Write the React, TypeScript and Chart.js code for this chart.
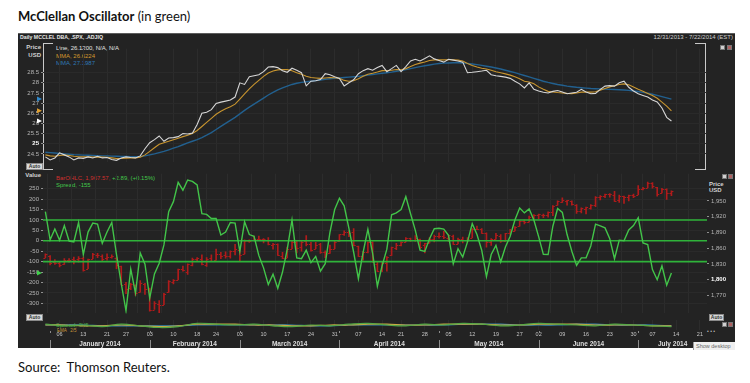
import React, { useEffect, useRef } from 'react';
import { Chart, registerables } from 'chart.js';

Chart.register(...registerables);

const SMALL_FONT = '"Liberation Sans", Arial, sans-serif';
Chart.defaults.font.family = SMALL_FONT;

// ---- x axis: trading days, index 0 = 12/31/2013 ... index 139 = 7/22/2014
const N_DAYS = 140;
const TICK_IDX = [3, 8, 13, 17, 22, 27, 32, 36, 41, 46, 51, 56, 61, 66, 71, 75, 80, 85, 90, 95, 100, 104, 109, 114, 119, 124, 128, 133, 138];
const TICK_LABELS = ['06', '13', '21', '27', '03', '10', '18', '24', '03', '10', '17', '24', '31', '07', '14', '21', '28', '05', '12', '19', '27', '02', '09', '16', '23', '30', '07', '14', '21'];
const MONTHS = ['January 2014', 'February 2014', 'March 2014', 'April 2014', 'May 2014', 'June 2014', 'July 2014'];
const MONTH_START = [1, 22, 41, 62, 83, 104, 125];

// ---- axis tick values
const TOP_TICKS = [24.5, 25, 25.5, 26, 26.5, 27, 27.5, 28, 28.5];
const OSC_TICKS = [250, 200, 150, 100, 50, 0, -50, -100, -150, -200, -250, -300];
const PX_TICKS = [1950, 1920, 1890, 1860, 1830, 1800, 1770];
const LEVELS = [100, 0, -100];

// ---- upper pane: price line + two moving averages
const PRICE = [
  24.35, 24.2, 24.3, 24.55, 24.45, 24.35, 24.2, 24.3, 24.28, 24.35,
  24.3, 24.38, 24.3, 24.32, 24.22, 24.18, 24.3, 24.35, 24.32, 24.3,
  24.4, 24.75, 25.05, 25.2, 25.38, 25.12, 25.28, 25.3, 25.35, 25.5,
  25.48, 25.52, 25.95, 26.5, 26.55, 26.68, 26.98, 27.05, 27.1, 27.15,
  27.3, 28.0, 27.92, 28.3, 28.35, 28.4, 28.55, 28.78, 28.8, 28.75,
  28.6, 28.52, 28.72, 28.62, 28.5, 27.85, 28.08, 28.1, 28.16, 28.45,
  28.4, 28.3, 28.22, 27.85, 28.0, 28.15, 28.45, 28.6, 28.7, 28.62,
  28.75, 28.86, 28.55, 28.7, 28.86, 28.55, 28.8, 29.08, 29.16, 29.08,
  29.2, 29.33, 29.18, 29.1, 29.02, 29.16, 29.12, 29.08, 29.02, 28.5,
  28.52, 28.55, 28.58, 28.62, 28.4, 28.35, 28.32, 28.28, 28.22, 28.08,
  27.95, 27.75, 28.0, 27.68, 27.6, 27.54, 27.5, 27.58, 27.62, 27.55,
  27.46, 27.5, 27.54, 27.68, 27.55, 27.46, 27.48, 27.68, 27.84, 27.86,
  27.84, 28.0, 28.08, 27.78, 27.6, 27.46, 27.38, 27.3, 27.15, 27.06,
  26.76, 26.3, 26.12,
];
const MMA_FAST = [
  24.45, 24.4, 24.38, 24.42, 24.45, 24.42, 24.38, 24.36, 24.35, 24.35,
  24.34, 24.35, 24.34, 24.33, 24.3, 24.27, 24.27, 24.29, 24.3, 24.3,
  24.33, 24.45, 24.62, 24.8, 24.97, 25.05, 25.12, 25.2, 25.27, 25.35,
  25.42, 25.5, 25.65, 25.85, 26.05, 26.25, 26.45, 26.6, 26.72, 26.82,
  26.95, 27.2, 27.45, 27.7, 27.92, 28.12, 28.32, 28.48, 28.58, 28.64,
  28.66, 28.65, 28.6, 28.5, 28.42, 28.32, 28.26, 28.24, 28.22, 28.24,
  28.26, 28.25, 28.22, 28.12, 28.08, 28.1, 28.2, 28.32, 28.42, 28.47,
  28.53, 28.6, 28.6, 28.62, 28.66, 28.64, 28.7, 28.8, 28.9, 28.97,
  29.03, 29.1, 29.13, 29.14, 29.13, 29.14, 29.14, 29.12, 29.08, 28.95,
  28.85, 28.78, 28.72, 28.68, 28.62, 28.55, 28.5, 28.44, 28.38, 28.3,
  28.2, 28.08, 28.04, 27.95, 27.8, 27.68, 27.58, 27.55, 27.52, 27.5,
  27.48, 27.47, 27.5, 27.54, 27.55, 27.54, 27.56, 27.64, 27.72, 27.8,
  27.86, 27.92, 27.95, 27.9, 27.8, 27.68, 27.58, 27.48, 27.38, 27.24,
  27.05, 26.85, 26.62,
];
const MMA_SLOW = [
  24.58, 24.56, 24.54, 24.52, 24.5, 24.48, 24.46, 24.45, 24.44, 24.43,
  24.42, 24.41, 24.4, 24.4, 24.39, 24.38, 24.37, 24.37, 24.36, 24.36,
  24.37, 24.4, 24.45, 24.5, 24.56, 24.62, 24.7, 24.78, 24.86, 24.95,
  25.04, 25.12, 25.2, 25.3, 25.42, 25.55, 25.7, 25.85, 26.0, 26.15,
  26.3, 26.47, 26.64, 26.8, 26.95, 27.1, 27.25, 27.4, 27.53, 27.65,
  27.75, 27.84, 27.92, 27.98, 28.02, 28.05, 28.08, 28.11, 28.14, 28.17,
  28.2, 28.22, 28.24, 28.26, 28.28, 28.3, 28.32, 28.35, 28.38, 28.41,
  28.44, 28.47, 28.5, 28.53, 28.57, 28.61, 28.65, 28.7, 28.75, 28.8,
  28.84, 28.88, 28.92, 28.95, 28.97, 28.98, 28.99, 28.99, 28.98, 28.96,
  28.93, 28.9, 28.86, 28.82, 28.78, 28.73, 28.68, 28.62, 28.56, 28.5,
  28.43, 28.36, 28.29, 28.22, 28.15, 28.08, 28.02, 27.97, 27.92, 27.88,
  27.84, 27.81, 27.78, 27.76, 27.74, 27.72, 27.71, 27.7, 27.69, 27.68,
  27.67, 27.66, 27.65, 27.63, 27.6, 27.57, 27.53, 27.49, 27.44, 27.38,
  27.32, 27.26, 27.2,
];

// ---- middle pane: McClellan oscillator (green) + S&P 500 OHLC bars (red)
const OSC = [
  140, 5, 57, 3, 73, -1, -5, 88, -66, 42,
  85, 80, -12, 42, 88, -66, -205, -336, -136, -251,
  -58, -112, -275, -159, -108, -20, 140, 188, 281, 243,
  292, 285, 268, 130, 127, 107, 107, 28, 42, 88,
  85, -51, 91, 30, 22, -70, -130, -210, -160, -228,
  -150, -40, 100, -82, -86, -45, -105, -75, -146, -110,
  40, 150, 204, 168, 60, -55, -182, -55, 55, -60,
  -218, -120, -40, 125, 134, 150, 212, 130, 50, -45,
  -51, 10, 58, 60, 56, 26, -110, -38, -78, -5,
  82, 30, -45, -172, -66, -22, -102, -30, 22, 100,
  157, 134, 153, 100, 20, -65, -66, 70, 155, 136,
  30, -50, -118, -82, -82, -25, 80, 72, 62, 10,
  -86, 3, 0, 52, 73, 111, -10, -18, -138, -187,
  -120, -213, -155,
];
const SPX_OPEN = [
  1842, 1845, 1833, 1832, 1829, 1838, 1839, 1840, 1841, 1821,
  1840, 1847, 1845, 1842, 1844, 1842, 1826, 1791, 1784, 1790,
  1776, 1791, 1782, 1743, 1753, 1752, 1776, 1796, 1800, 1820,
  1815, 1828, 1839, 1840, 1828, 1841, 1837, 1848, 1846, 1845,
  1855, 1857, 1849, 1874, 1875, 1878, 1877, 1876, 1866, 1868,
  1845, 1842, 1859, 1872, 1862, 1874, 1867, 1859, 1867, 1853,
  1850, 1859, 1873, 1886, 1891, 1890, 1864, 1845, 1852, 1872,
  1830, 1818, 1831, 1846, 1861, 1865, 1872, 1879, 1876, 1877,
  1865, 1870, 1877, 1884, 1884, 1879, 1884, 1868, 1877, 1876,
  1880, 1897, 1896, 1889, 1872, 1877, 1884, 1873, 1888, 1893,
  1902, 1911, 1910, 1920, 1924, 1923, 1923, 1928, 1942, 1948,
  1950, 1950, 1943, 1930, 1934, 1937, 1942, 1957, 1960, 1963,
  1962, 1951, 1959, 1958, 1961, 1962, 1973, 1975, 1984, 1976,
  1965, 1973, 1965,
];
const SPX_HIGH = [
  1849, 1846, 1838, 1835, 1840, 1840, 1843, 1844, 1843, 1839,
  1850, 1850, 1847, 1849, 1847, 1842, 1826, 1795, 1793, 1790,
  1798, 1793, 1784, 1758, 1760, 1774, 1798, 1800, 1820, 1826,
  1830, 1841, 1842, 1847, 1842, 1847, 1858, 1852, 1853, 1855,
  1867, 1857, 1876, 1876, 1883, 1883, 1878, 1880, 1869, 1868,
  1852, 1862, 1874, 1874, 1873, 1884, 1871, 1871, 1869, 1855,
  1866, 1873, 1886, 1893, 1893, 1897, 1864, 1854, 1872, 1872,
  1835, 1834, 1844, 1862, 1869, 1872, 1880, 1879, 1884, 1877,
  1869, 1880, 1885, 1889, 1892, 1885, 1885, 1879, 1881, 1880,
  1897, 1902, 1897, 1889, 1878, 1888, 1886, 1888, 1896, 1901,
  1912, 1914, 1921, 1924, 1925, 1925, 1929, 1941, 1950, 1956,
  1951, 1950, 1943, 1937, 1938, 1943, 1958, 1960, 1963, 1964,
  1968, 1961, 1959, 1961, 1963, 1979, 1976, 1986, 1985, 1976,
  1974, 1973, 1969,
];
const SPX_LOW = [
  1842, 1828, 1829, 1824, 1829, 1833, 1830, 1833, 1816, 1821,
  1840, 1842, 1835, 1837, 1841, 1821, 1790, 1773, 1781, 1770,
  1776, 1772, 1740, 1743, 1737, 1752, 1776, 1792, 1800, 1816,
  1810, 1826, 1835, 1828, 1825, 1836, 1837, 1840, 1841, 1841,
  1847, 1835, 1849, 1871, 1875, 1874, 1870, 1866, 1858, 1846,
  1840, 1842, 1859, 1851, 1854, 1864, 1854, 1859, 1850, 1842,
  1850, 1859, 1873, 1884, 1882, 1864, 1844, 1837, 1851, 1833,
  1815, 1815, 1816, 1846, 1857, 1864, 1872, 1873, 1873, 1859,
  1851, 1870, 1872, 1879, 1878, 1873, 1867, 1868, 1870, 1872,
  1880, 1896, 1888, 1862, 1865, 1877, 1871, 1873, 1886, 1893,
  1902, 1906, 1910, 1916, 1916, 1918, 1919, 1922, 1942, 1947,
  1942, 1942, 1926, 1927, 1925, 1934, 1939, 1952, 1956, 1957,
  1949, 1947, 1945, 1950, 1956, 1962, 1971, 1975, 1974, 1959,
  1965, 1953, 1960,
];
const SPX_CLOSE = [
  1848, 1832, 1831, 1827, 1838, 1837, 1838, 1842, 1819, 1839,
  1848, 1846, 1839, 1844, 1845, 1828, 1790, 1782, 1792, 1774,
  1794, 1783, 1742, 1755, 1752, 1773, 1797, 1800, 1820, 1819,
  1830, 1839, 1841, 1829, 1840, 1836, 1848, 1845, 1845, 1854,
  1859, 1846, 1874, 1874, 1877, 1878, 1877, 1868, 1868, 1846,
  1841, 1859, 1872, 1861, 1872, 1867, 1857, 1866, 1853, 1849,
  1858, 1872, 1886, 1891, 1889, 1865, 1845, 1852, 1872, 1833,
  1816, 1831, 1843, 1862, 1865, 1872, 1880, 1875, 1879, 1863,
  1869, 1878, 1884, 1884, 1881, 1885, 1868, 1878, 1876, 1878,
  1897, 1897, 1889, 1871, 1878, 1885, 1873, 1888, 1892, 1901,
  1912, 1910, 1920, 1924, 1925, 1924, 1928, 1940, 1949, 1951,
  1951, 1944, 1930, 1936, 1938, 1942, 1957, 1959, 1963, 1963,
  1950, 1960, 1957, 1961, 1960, 1973, 1975, 1985, 1978, 1964,
  1973, 1965, 1968,
];

// ---- bottom mini pane (sampled trading days)
const MINI_IDX = [0, 4, 8, 12, 16, 20, 24, 28, 32, 36, 40, 44, 48, 52, 56, 60, 64, 68, 72, 76, 80, 84, 88, 92, 96, 100, 104, 108, 112, 116, 120, 124, 128, 132];
const MINI_SPREAD = [1, -1, 0, -2, 1, -1, -3, -2, 2, 1, 0, 1, -1, -2, 0, -1, 1, 2, 0, -1, 1, 0, 2, 1, -1, 0, 2, 1, 0, -1, 1, 0, -1, -2];
const MINI_EMA_A = [0, 0, -1, -1, 0, -1, -2, -1, 1, 1, 1, 0, 0, -1, -1, 0, 0, 1, 1, 0, 0, 1, 1, 1, 0, 0, 1, 1, 1, 0, 0, 0, -1, -1];
const MINI_EMA_B = [0, 0, 0, -1, -1, -1, -1, -1, 0, 0, 0, 0, 0, 0, -1, -1, 0, 0, 0, 0, 0, 0, 1, 1, 1, 0, 0, 0, 1, 1, 0, 0, 0, -1];

// ---- colours
const BG = '#232323';
const GRID_V = '#2c2c2c';
const GRID_H = '#2a2a2a';
const C_PRICE = '#d6d6d6';
const C_FAST = '#c8952f';
const C_SLOW = '#22608f';
const C_OSC = '#42c449';
const C_LEVEL = '#2fb33a';
const C_RED = '#b01b1b';
const C_TICK = '#b4b4b4';

const pts = (arr: number[]) => arr.map((v, i) => ({ x: i, y: v }));
const last = (arr: number[]) => arr[arr.length - 1];

function xAxis(extra: any = {}) {
  return {
    type: 'linear',
    min: -0.5,
    max: N_DAYS - 0.5,
    offset: false,
    afterBuildTicks: (s: any) => { s.ticks = TICK_IDX.map((v) => ({ value: v })); },
    grid: { color: GRID_V, drawTicks: false },
    border: { display: false },
    ticks: { display: false },
    afterFit: (s: any) => { s.height = 0; },
    ...extra,
  };
}

function yAxis(position: string, min: number, max: number, ticks: number[], width: number, fmt: (v: number) => string, boldValue: number) {
  return {
    type: 'linear',
    position,
    min,
    max,
    afterBuildTicks: (s: any) => { s.ticks = ticks.map((v) => ({ value: v })); },
    afterFit: (s: any) => { s.width = width; },
    grid: { color: GRID_H, tickLength: 2, tickColor: '#8f8f8f', drawOnChartArea: position === 'left' },
    border: { display: false },
    ticks: {
      padding: 2,
      color: (c: any) => (c.tick && c.tick.value === boldValue ? '#ffffff' : C_TICK),
      font: (c: any) => ({ size: 6, family: SMALL_FONT, weight: c.tick && c.tick.value === boldValue ? 'bold' : 'normal' }),
      callback: (v: number) => fmt(v),
    },
  };
}

const lastMarkers = {
  id: 'lastMarkers',
  afterDraw(chart: any, _a: any, opts: any) {
    const { ctx, chartArea } = chart;
    ctx.save();
    (opts.items || []).forEach((it: any) => {
      const y = chart.scales[it.axis].getPixelForValue(it.value);
      const x = chartArea.left - 1;
      ctx.fillStyle = it.color;
      ctx.beginPath();
      ctx.moveTo(x - 5, y - 2.5);
      ctx.lineTo(x, y);
      ctx.lineTo(x - 5, y + 2.5);
      ctx.closePath();
      ctx.fill();
    });
    ctx.restore();
  },
};

const ohlcTicks = {
  id: 'ohlcTicks',
  beforeDatasetsDraw(chart: any) {
    const xs = chart.scales.x;
    const ys = chart.scales.yPx;
    const ctx = chart.ctx;
    ctx.save();
    ctx.strokeStyle = C_RED;
    ctx.lineWidth = 1;
    SPX_OPEN.forEach((o, i) => {
      const px = xs.getPixelForValue(i);
      const yo = Math.round(ys.getPixelForValue(o)) + 0.5;
      const yc = Math.round(ys.getPixelForValue(SPX_CLOSE[i])) + 0.5;
      ctx.beginPath();
      ctx.moveTo(px - 2, yo);
      ctx.lineTo(px, yo);
      ctx.moveTo(px, yc);
      ctx.lineTo(px + 2, yc);
      ctx.stroke();
    });
    ctx.restore();
  },
};

const monthLabels = {
  id: 'monthLabels',
  afterDraw(chart: any) {
    const { ctx, chartArea } = chart;
    const xs = chart.scales.x;
    ctx.save();
    ctx.font = 'bold 6.5px ' + SMALL_FONT;
    ctx.fillStyle = '#dedede';
    ctx.textAlign = 'center';
    ctx.textBaseline = 'middle';
    ctx.strokeStyle = '#8c8c8c';
    ctx.lineWidth = 1;
    MONTHS.forEach((m, k) => {
      const x0 = xs.getPixelForValue(MONTH_START[k]);
      const x1 = k + 1 < MONTHS.length ? xs.getPixelForValue(MONTH_START[k + 1]) : chartArea.right;
      const sx = Math.round(x0) + 0.5;
      ctx.beginPath();
      ctx.moveTo(sx, 21);
      ctx.lineTo(sx, 29);
      ctx.moveTo(sx, 12);
      ctx.lineTo(sx, 14);
      ctx.stroke();
      ctx.fillText(m, (x0 + x1) / 2, 25.5);
    });
    ctx.restore();
  },
};

const baseOptions = {
  animation: false,
  responsive: false,
  maintainAspectRatio: false,
  devicePixelRatio: 1,
  events: [],
};

function configTop(): any {
  return {
    type: 'line',
    data: {
      datasets: [
        { data: pts(PRICE), borderColor: C_PRICE, borderWidth: 1.1, pointRadius: 0, order: 0 },
        { data: pts(MMA_FAST), borderColor: C_FAST, borderWidth: 1.1, pointRadius: 0, order: 1 },
        { data: pts(MMA_SLOW), borderColor: C_SLOW, borderWidth: 1.4, pointRadius: 0, order: 2 },
      ],
    },
    options: {
      ...baseOptions,
      layout: { padding: { left: 0, right: 28, top: 1, bottom: 4 } },
      plugins: {
        legend: { display: false },
        tooltip: { enabled: false },
        lastMarkers: {
          items: [
            { axis: 'y', value: last(MMA_SLOW), color: '#2f86c8' },
            { axis: 'y', value: last(MMA_FAST), color: '#e0a030' },
            { axis: 'y', value: last(PRICE), color: '#ffffff' },
          ],
        },
      },
      scales: {
        x: xAxis(),
        y: yAxis('left', 24.079, 29.687, TOP_TICKS, 25, (v) => String(v), 25),
      },
    },
    plugins: [lastMarkers],
  };
}

function configMid(): any {
  return {
    type: 'line',
    data: {
      datasets: [
        { data: pts(OSC), yAxisID: 'yOsc', borderColor: C_OSC, borderWidth: 1.4, pointRadius: 0, order: 0 },
        ...LEVELS.map((lv) => ({
          data: [{ x: -0.5, y: lv }, { x: N_DAYS - 0.5, y: lv }],
          yAxisID: 'yOsc', borderColor: C_LEVEL, borderWidth: 1.6, pointRadius: 0, order: 1,
        })),
        {
          type: 'bar',
          data: SPX_LOW.map((l, i) => ({ x: i, y: [l, SPX_HIGH[i]] })),
          yAxisID: 'yPx',
          backgroundColor: C_RED,
          borderWidth: 0,
          barThickness: 1,
          order: 3,
        },
      ],
    },
    options: {
      ...baseOptions,
      layout: { padding: { left: 0, right: 0, top: 3, bottom: 3 } },
      plugins: {
        legend: { display: false },
        tooltip: { enabled: false },
        lastMarkers: { items: [{ axis: 'yOsc', value: last(OSC), color: '#3fd04a' }] },
      },
      scales: {
        x: xAxis(),
        yOsc: yAxis('left', -348.6, 322.7, OSC_TICKS, 25, (v) => String(v), 99999),
        yPx: yAxis('right', 1735.6, 2002.0, PX_TICKS, 28, (v) => v.toLocaleString('en-US'), 1800),
      },
    },
    plugins: [ohlcTicks, lastMarkers],
  };
}

function configBottom(): any {
  const sparse = (arr: number[]) => arr.map((v, k) => ({ x: MINI_IDX[k], y: v }));
  return {
    type: 'line',
    data: {
      datasets: [
        { data: sparse(MINI_SPREAD), borderColor: '#55a845', borderWidth: 1.2, pointRadius: 0, tension: 0.4, order: 0 },
        { data: sparse(MINI_EMA_A), borderColor: '#c9ab45', borderWidth: 1.2, pointRadius: 0, tension: 0.4, order: 1 },
        { data: sparse(MINI_EMA_B), borderColor: '#3286b3', borderWidth: 1.2, pointRadius: 0, tension: 0.4, order: 2 },
      ],
    },
    options: {
      ...baseOptions,
      layout: { padding: { left: 25, right: 28, top: 1, bottom: 0 } },
      plugins: { legend: { display: false }, tooltip: { enabled: false } },
      scales: {
        x: xAxis({
          ticks: {
            display: true,
            autoSkip: false,
            maxRotation: 0,
            padding: 1,
            color: '#c4c4c4',
            font: { size: 5.5, family: SMALL_FONT },
            callback: (_v: number, i: number) => TICK_LABELS[i],
          },
          afterFit: (s: any) => { s.height = 18; },
        }),
        y: { display: false, min: -6, max: 6 },
      },
    },
    plugins: [monthLabels],
  };
}

const txt = (s: any): any => ({
  position: 'absolute',
  fontFamily: SMALL_FONT,
  fontSize: 6,
  lineHeight: '7px',
  whiteSpace: 'pre',
  ...s,
});
const line = (left: number, top: number, width: number, height: number, color = '#c9c9c9'): any => ({
  position: 'absolute', left, top, width, height, background: color,
});
const btn = (left: number, top: number, width: number): any => ({
  position: 'absolute', left, top, width, height: 7, boxSizing: 'border-box',
  background: '#d9d9d9', border: '1px solid #8a8a8a', color: '#333',
  fontFamily: SMALL_FONT, fontSize: 5, lineHeight: '5px', textAlign: 'center', fontWeight: 'bold',
});
const icon = (left: number, top: number, bg: string): any => ({
  position: 'absolute', left, top, width: 5, height: 5, background: bg, border: '0.5px solid #777', boxSizing: 'border-box',
});

export default function App() {
  const refTop = useRef<HTMLCanvasElement>(null);
  const refMid = useRef<HTMLCanvasElement>(null);
  const refBot = useRef<HTMLCanvasElement>(null);

  useEffect(() => {
    const charts = [
      new Chart(refTop.current as any, configTop()),
      new Chart(refMid.current as any, configMid()),
      new Chart(refBot.current as any, configBottom()),
    ];
    return () => charts.forEach((c) => c.destroy());
  }, []);

  return (
    <div style={{ position: 'absolute', left: 0, top: 0, width: 750, height: 383, background: '#fff', overflow: 'hidden' }}>
      <div style={{ position: 'absolute', left: 18, top: 8, fontFamily: 'Lato, "Open Sans", sans-serif', fontSize: 13, lineHeight: '16px', color: '#111', whiteSpace: 'pre' }}>
        <span style={{ fontWeight: 'bold' }}>McClellan Oscillator</span> (in green)
      </div>

      <div style={{ position: 'absolute', left: 18, top: 33, width: 717, height: 315, background: BG, borderTop: '1px solid #5c5c5c', boxSizing: 'border-box' }} />

      <div style={txt({ left: 20, top: 34, fontSize: 5.2, fontWeight: 'bold', color: '#e8e8e8' })}>Daily MCCLEL DBA, .SPX, .ADJIQ</div>
      <div style={txt({ right: 17, top: 34, color: '#cfcfcf' })}>12/31/2013 - 7/22/2014 (EST)</div>

      {/* upper pane frame */}
      <div style={line(43, 43, 1, 127)} />
      <div style={line(43, 43, 10, 1)} />
      <div style={line(43, 169, 10, 1)} />
      <div style={line(705, 43, 1, 127)} />
      <div style={line(695, 43, 11, 1)} />
      <div style={line(695, 169, 11, 1)} />

      <div style={txt({ right: 709, top: 43.5, fontWeight: 'bold', color: '#d2d2d2', textAlign: 'right' })}>Price</div>
      <div style={txt({ right: 709, top: 51.5, fontWeight: 'bold', color: '#d2d2d2', textAlign: 'right' })}>USD</div>
      <div style={txt({ left: 56, top: 45, color: '#e4e4e4' })}>Line, 26.1200, N/A, N/A</div>
      <div style={txt({ left: 56, top: 52.5, color: '#d49a2e' })}>MMA, 26.6224</div>
      <div style={txt({ left: 56, top: 60, color: '#2f78b4' })}>MMA, 27.1987</div>
      <div style={icon(720, 45, '#cfcfcf')} />
      <div style={icon(727, 45, '#b06060')} />
      <div style={btn(26, 163, 17)}>Auto</div>

      {/* middle pane texts */}
      <div style={txt({ right: 709, top: 171.5, fontWeight: 'bold', color: '#d2d2d2', textAlign: 'right' })}>Value</div>
      <div style={txt({ left: 56, top: 174.5 })}>
        <span style={{ color: '#d0302e' }}>BarOHLC, 1,967.57, </span>
        <span style={{ color: '#44c84b' }}>+2.89, (+0.15%)</span>
      </div>
      <div style={txt({ left: 56, top: 181.5, color: '#44c84b' })}>Spread, -155</div>
      <div style={txt({ left: 709, top: 180.5, fontWeight: 'bold', color: '#d2d2d2' })}>Price</div>
      <div style={txt({ left: 709, top: 187, fontWeight: 'bold', color: '#d2d2d2' })}>USD</div>
      <div style={icon(722, 174, '#cfcfcf')} />
      <div style={icon(728, 174, '#b06060')} />
      <div style={btn(26, 314, 17)}>Auto</div>
      <div style={btn(709, 314, 15)}>Auto</div>

      {/* bottom mini pane texts */}
      <div style={txt({ left: 56, top: 321.5, color: '#4aa548' })}>Spread, 305</div>
      <div style={txt({ left: 57, top: 328, fontSize: 4.5, lineHeight: '5px', color: '#c99a3b' })}>EMA   2/5</div>
      <div style={icon(722, 322, '#cfcfcf')} />
      <div style={icon(728, 322, '#b06060')} />
      <div style={txt({ left: 707, top: 328, fontSize: 5, color: '#bbbbbb' })}>• • •</div>

      <canvas ref={refTop} width={717} height={125} style={{ position: 'absolute', left: 18, top: 43, width: 717, height: 125 }} />
      <canvas ref={refMid} width={717} height={151} style={{ position: 'absolute', left: 18, top: 168, width: 717, height: 151 }} />
      <canvas ref={refBot} width={717} height={29} style={{ position: 'absolute', left: 18, top: 319, width: 717, height: 29 }} />

      <div style={{ position: 'absolute', left: 693, top: 342, width: 42, height: 8, background: '#efefef', borderLeft: '1px solid #999', fontFamily: SMALL_FONT, fontSize: 5.5, lineHeight: '8px', color: '#666', paddingLeft: 2, boxSizing: 'border-box', whiteSpace: 'pre' }}>Show desktop</div>

      <div style={{ position: 'absolute', left: 18, top: 359, fontFamily: 'Lato, "Open Sans", sans-serif', fontSize: 13, lineHeight: '16px', color: '#111', whiteSpace: 'pre' }}>Source:  Thomson Reuters.</div>
    </div>
  );
}
